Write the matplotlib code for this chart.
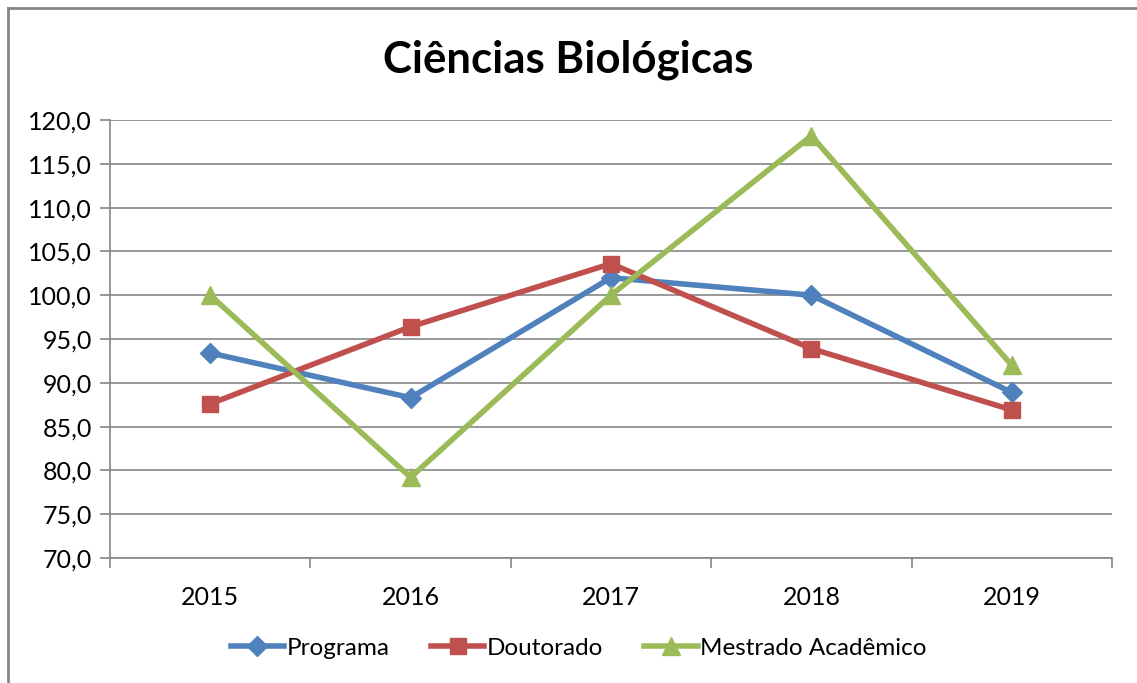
import numpy as np
import matplotlib.pyplot as plt
from matplotlib.lines import Line2D

anos = ['2015', '2016', '2017', '2018', '2019']
programa = [93.4, 88.3, 102.0, 100.0, 88.9]
doutorado = [87.6, 96.4, 103.6, 93.9, 86.9]
mestrado = [100.0, 79.2, 100.0, 118.2, 92.0]
yticks = [70, 75, 80, 85, 90, 95, 100, 105, 110, 115, 120]

plt.rcParams['font.family'] = ['Lato', 'DejaVu Sans']

fig = plt.figure(figsize=(11.37, 6.83), dpi=100)
ax = fig.add_axes([110/1137, 1-558/683, 1002/1137, 438/683])

x = np.arange(len(anos))
ax.plot(x, programa, color='#4F81BD', lw=4, marker='D', ms=10, label='Programa', zorder=3)
ax.plot(x, doutorado, color='#C0504D', lw=4, marker='s', ms=11, label='Doutorado', zorder=3)
ax.plot(x, mestrado, color='#9BBB59', lw=4, marker='^', ms=13, label='Mestrado Acadêmico', zorder=3)

ax.set_xlim(-0.5, len(anos) - 0.5)
ax.set_ylim(70, 120)
ax.set_yticks(yticks)
ax.set_yticklabels([f'{v:.1f}'.replace('.', ',') for v in yticks], fontsize=18)
ax.set_xticks(x)
ax.set_xticklabels(anos, fontsize=18)
ax.set_xticks(np.arange(-0.5, len(anos)), minor=True)
ax.tick_params(axis='x', which='major', length=0, pad=20)
ax.tick_params(axis='x', which='minor', length=7, width=1.2, color='#868686', direction='out')
ax.tick_params(axis='y', length=7, width=1.2, color='#868686', pad=6)
ax.yaxis.grid(True, color='#868686', lw=1.2)
ax.set_axisbelow(True)
for s in ['top', 'right']:
    ax.spines[s].set_visible(False)
for s in ['left', 'bottom']:
    ax.spines[s].set_color('#868686')
    ax.spines[s].set_linewidth(1.2)

fig.text(0.5, 1-60/683, 'Ciências Biológicas', ha='center', va='center', fontsize=31.5, fontweight='bold')

handles = [Line2D([], [], color='#4F81BD', lw=4, marker='D', ms=10),
           Line2D([], [], color='#C0504D', lw=4, marker='s', ms=11),
           Line2D([], [], color='#9BBB59', lw=4, marker='^', ms=13)]
fig.legend(handles, ['Programa', 'Doutorado', 'Mestrado Acadêmico'], loc='center',
           bbox_to_anchor=(0.509, 1-648/683), ncol=3, frameon=False, fontsize=17.5,
           handlelength=2.2, handletextpad=0.1, columnspacing=1.7)

# borda do gráfico
fig.add_artist(Line2D([8/1137, 8/1137], [0, 1-8/683], color='#868686', lw=2))
fig.add_artist(Line2D([8/1137, 1], [1-8/683, 1-8/683], color='#868686', lw=2))

fig.savefig('out.png', dpi=100)
